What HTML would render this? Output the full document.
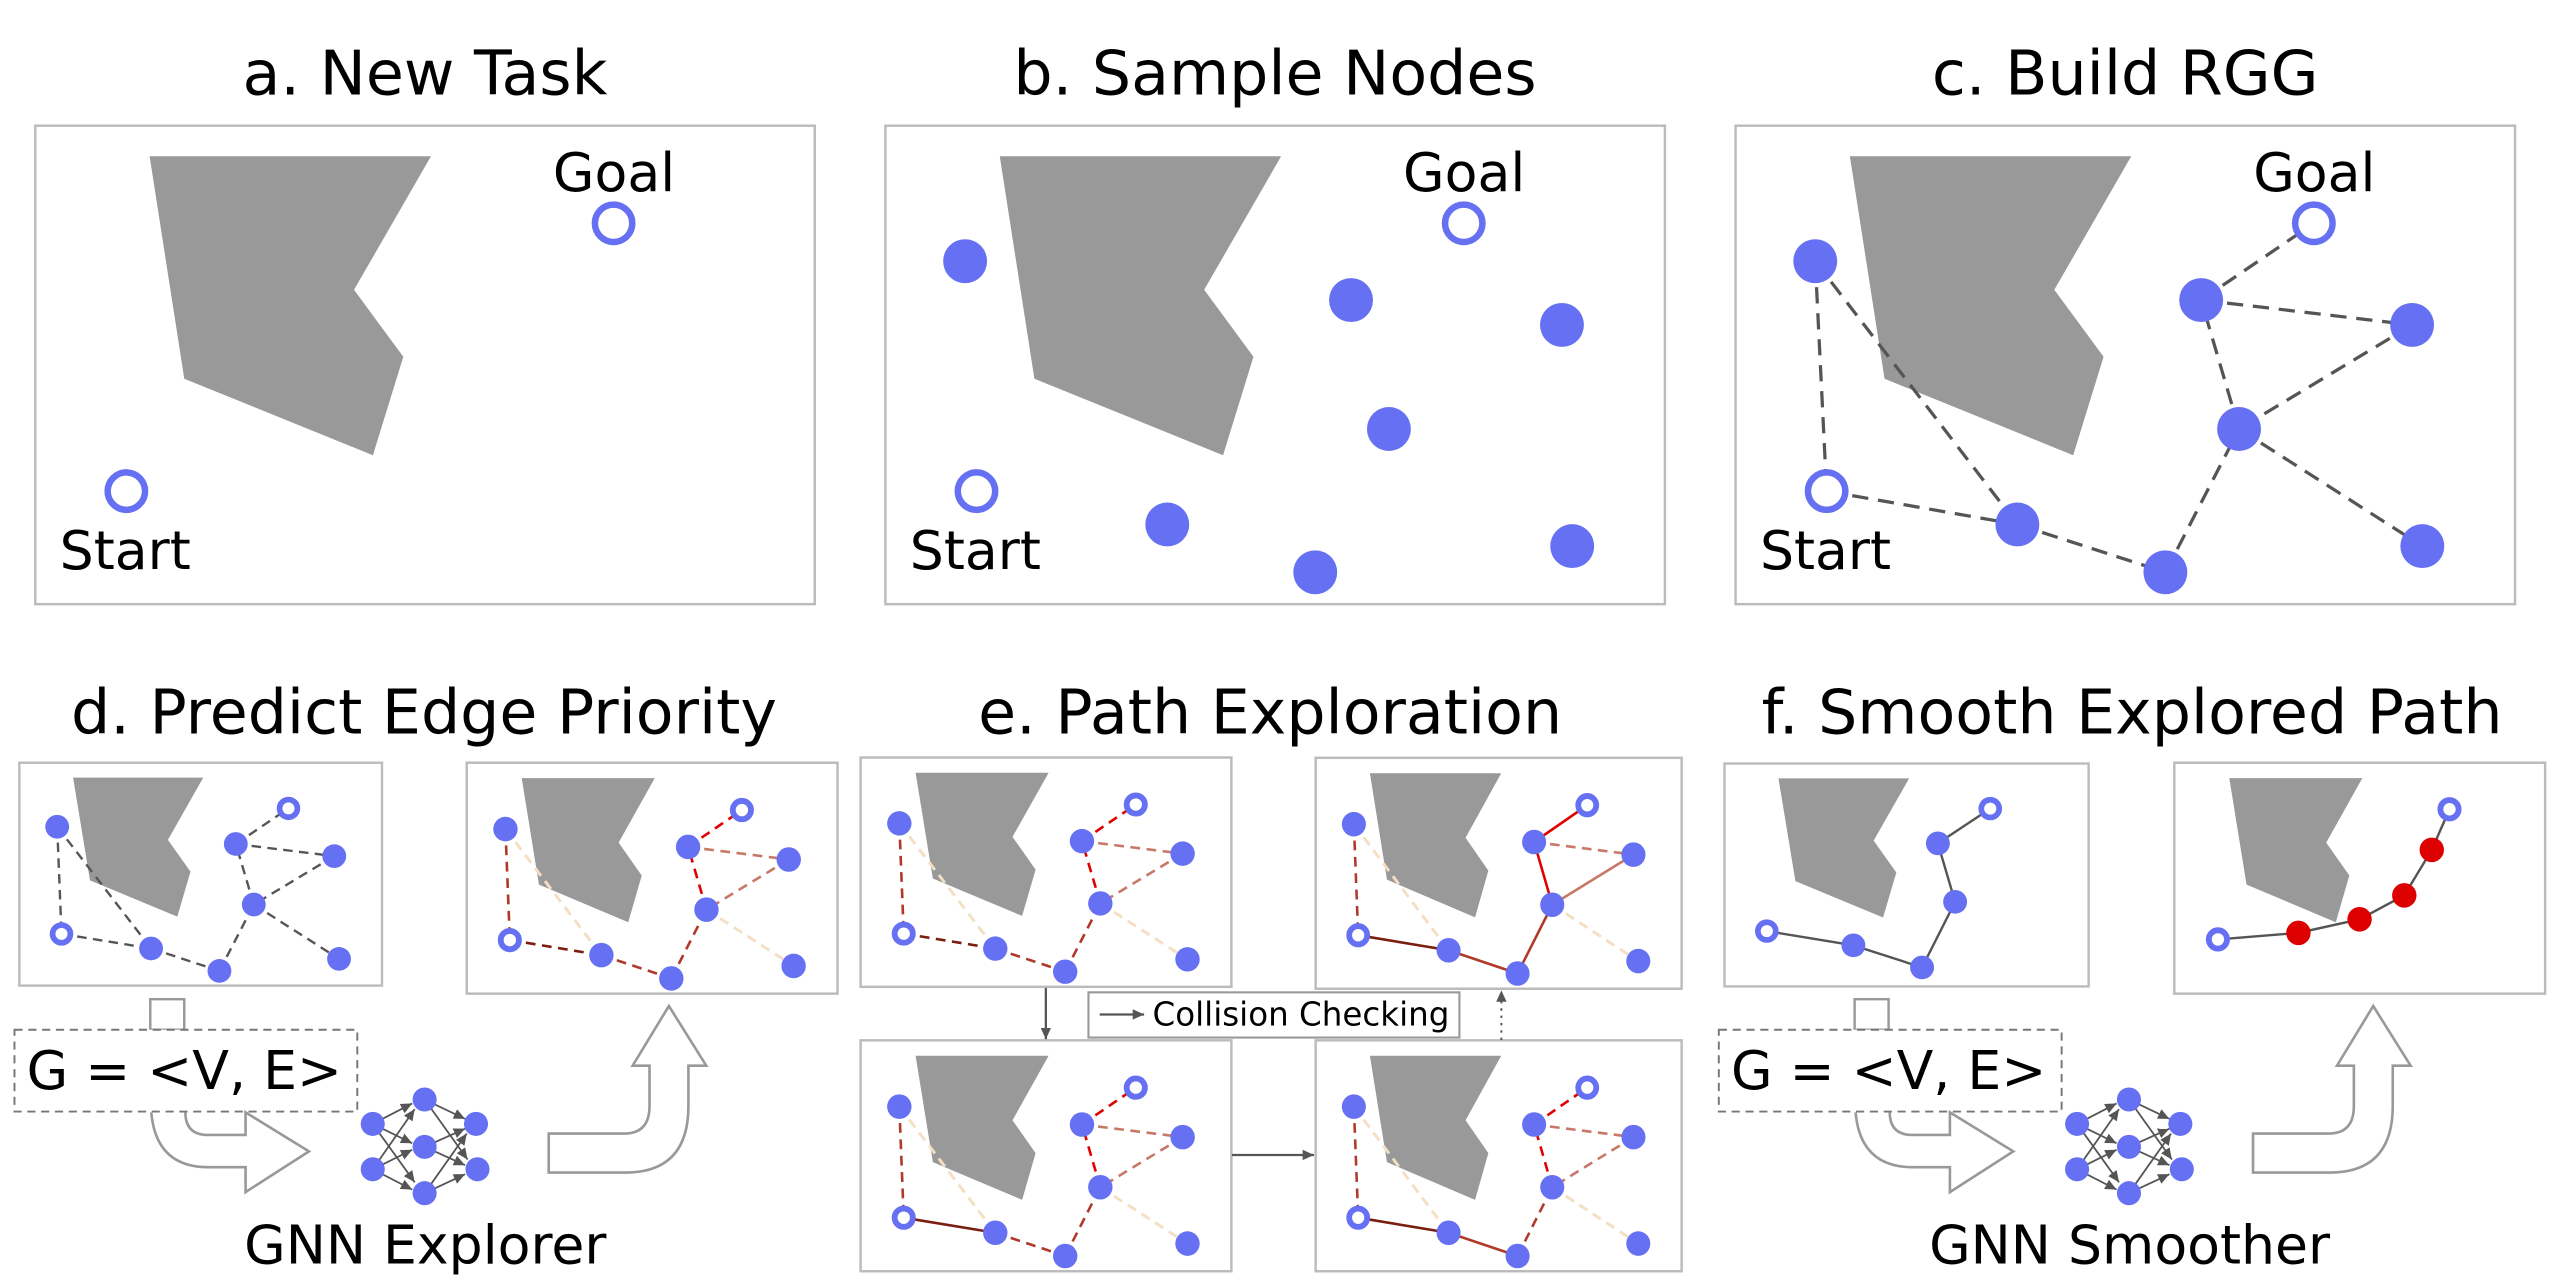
<!DOCTYPE html>
<html><head><meta charset="utf-8">
<style>
html,body{margin:0;padding:0;background:#fff;}
svg{display:block;}
text{font-family:"DejaVu Sans","Liberation Sans",sans-serif;fill:#000;}
</style></head>
<body>
<svg width="2550" height="1275" viewBox="0 0 1568 784" preserveAspectRatio="none" xmlns="http://www.w3.org/2000/svg">
<defs>
  <marker id="ah" markerWidth="8" markerHeight="8" refX="7" refY="4" orient="auto" markerUnits="userSpaceOnUse">
    <path d="M0,0.8 L7,4 L0,7.2 Z" fill="#555"/>
  </marker>
  <marker id="ah2" markerWidth="12" markerHeight="12" refX="10" refY="5" orient="auto" markerUnits="userSpaceOnUse">
    <path d="M0,0 L10,5 L0,10 Z" fill="#555"/>
  </marker>
  <!-- big obstacle -->
  <polygon id="bobs" points="92,96.1 265,96.1 217.7,178.2 248,219.4 229.3,279.9 113.3,232.9" fill="#999"/>
  <!-- small obstacle -->
  <polygon id="sobs" points="33.8,9.4 115.6,9.4 93.4,48.8 107.6,68.9 99.3,97.4 44.4,74.4" fill="#999"/>
  <g id="snodes">
    <circle cx="23.8" cy="40.5" r="7.5" fill="#6670f2"/>
    <circle cx="136.1" cy="51.4" r="7.5" fill="#6670f2"/>
    <circle cx="198" cy="59.1" r="7.5" fill="#6670f2"/>
    <circle cx="147.4" cy="89.7" r="7.5" fill="#6670f2"/>
    <circle cx="82.8" cy="117.5" r="7.5" fill="#6670f2"/>
    <circle cx="125.8" cy="131.7" r="7.5" fill="#6670f2"/>
    <circle cx="201" cy="124.1" r="7.5" fill="#6670f2"/>
    <circle cx="169.2" cy="28.9" r="5.6" fill="#fff" stroke="#6670f2" stroke-width="3.6"/>
    <circle cx="26.5" cy="108.3" r="5.6" fill="#fff" stroke="#6670f2" stroke-width="3.6"/>
  </g>
  <g id="nn">
    <g stroke="#555" stroke-width="1.1" marker-end="url(#ah)">
      <line x1="229.2" y1="691.1" x2="253.5" y2="678.5"/>
      <line x1="229.2" y1="691.1" x2="253.5" y2="703"/>
      <line x1="229.2" y1="691.1" x2="255" y2="727"/>
      <line x1="229.2" y1="719" x2="255" y2="682"/>
      <line x1="229.2" y1="719" x2="253.5" y2="707"/>
      <line x1="229.2" y1="719" x2="253.5" y2="731.5"/>
      <line x1="261.1" y1="676.1" x2="286" y2="688"/>
      <line x1="261.1" y1="676.1" x2="287.5" y2="713"/>
      <line x1="261.1" y1="705.2" x2="286" y2="694"/>
      <line x1="261.1" y1="705.2" x2="286" y2="716.5"/>
      <line x1="261.1" y1="733.7" x2="287" y2="697"/>
      <line x1="261.1" y1="733.7" x2="286" y2="722"/>
    </g>
    <g fill="#6670f2">
      <circle cx="229.2" cy="691.1" r="7.4"/><circle cx="229.2" cy="719" r="7.4"/>
      <circle cx="261.1" cy="676.1" r="7.4"/><circle cx="261.1" cy="705.2" r="7.4"/><circle cx="261.1" cy="733.7" r="7.4"/>
      <circle cx="292.7" cy="691.1" r="7.4"/><circle cx="293.6" cy="719" r="7.4"/>
    </g>
  </g>
  <g id="gbox">
    <rect x="92.4" y="614.4" width="20.9" height="18.8" fill="#fff" stroke="#999" stroke-width="1.5"/>
    <rect x="8.9" y="633.2" width="210.8" height="50.3" fill="#fff" stroke="#777" stroke-width="1.2" stroke-dasharray="5,3.5"/>
    <path d="M93,684 Q96,717.7 128,717.7 L151,717.7 L151,733 L190,708 L151,684 L151,697.9 L128,697.9 Q114,697.9 114,684" fill="none" stroke="#999" stroke-width="1.6"/>
    <path d="M399.4,655.3 L399.4,680 Q399.4,697 384,697 L337.4,697 L337.4,721 L384.5,721 Q423.3,721 423.3,680 L423.3,655.3 L434.3,655.3 L411.3,618.6 L389,655.3 Z" fill="#fff" stroke="#999" stroke-width="1.6"/>
  </g>
</defs>

<!-- Titles -->
<g font-size="38" text-anchor="middle">
  <text x="261.3" y="58">a. New Task</text>
  <text x="784" y="58">b. Sample Nodes</text>
  <text x="1306.8" y="58">c. Build RGG</text>
  <text x="260.7" y="451">d. Predict Edge Priority</text>
  <text x="781" y="451">e. Path Exploration</text>
  <text x="1311" y="451">f. Smooth Explored Path</text>
</g>

<!-- Panel a -->
<g>
  <rect x="21.7" y="77.3" width="479.3" height="294.2" fill="#fff" stroke="#bbb" stroke-width="1.5"/>
  <use href="#bobs"/>
  <circle cx="377.3" cy="137.3" r="11.5" fill="#fff" stroke="#6670f2" stroke-width="4"/>
  <circle cx="77.7" cy="302" r="11.5" fill="#fff" stroke="#6670f2" stroke-width="4"/>
  <text x="340" y="117.5" font-size="33">Goal</text>
  <text x="36.7" y="350" font-size="33">Start</text>
</g>
<!-- Panel b -->
<g transform="translate(522.75,0)">
  <rect x="21.7" y="77.3" width="479.3" height="294.2" fill="#fff" stroke="#bbb" stroke-width="1.5"/>
  <use href="#bobs"/>
  <g fill="#6670f2">
    <circle cx="70.7" cy="160.6" r="13.5"/><circle cx="308" cy="184.5" r="13.5"/><circle cx="437.7" cy="199.8" r="13.5"/>
    <circle cx="331.3" cy="263.8" r="13.5"/><circle cx="195" cy="322.5" r="13.5"/><circle cx="286" cy="351.9" r="13.5"/><circle cx="444" cy="335.8" r="13.5"/>
  </g>
  <circle cx="377.3" cy="137.3" r="11.5" fill="#fff" stroke="#6670f2" stroke-width="4"/>
  <circle cx="77.7" cy="302" r="11.5" fill="#fff" stroke="#6670f2" stroke-width="4"/>
  <text x="340" y="117.5" font-size="33">Goal</text>
  <text x="36.7" y="350" font-size="33">Start</text>
</g>
<!-- Panel c -->
<g transform="translate(1045.5,0)">
  <rect x="21.7" y="77.3" width="479.3" height="294.2" fill="#fff" stroke="#bbb" stroke-width="1.5"/>
  <use href="#bobs"/>
  <g stroke="#555" stroke-width="2" stroke-dasharray="10,6" fill="none">
    <line x1="70.7" y1="160.6" x2="77.7" y2="302"/>
    <line x1="70.7" y1="160.6" x2="195" y2="322.5"/>
    <line x1="77.7" y1="302" x2="195" y2="322.5"/>
    <line x1="195" y1="322.5" x2="286" y2="351.9"/>
    <line x1="286" y1="351.9" x2="331.3" y2="263.8"/>
    <line x1="331.3" y1="263.8" x2="308" y2="184.5"/>
    <line x1="308" y1="184.5" x2="377.3" y2="137.3"/>
    <line x1="308" y1="184.5" x2="437.7" y2="199.8"/>
    <line x1="437.7" y1="199.8" x2="331.3" y2="263.8"/>
    <line x1="331.3" y1="263.8" x2="444" y2="335.8"/>
  </g>
  <g fill="#6670f2">
    <circle cx="70.7" cy="160.6" r="13.5"/><circle cx="308" cy="184.5" r="13.5"/><circle cx="437.7" cy="199.8" r="13.5"/>
    <circle cx="331.3" cy="263.8" r="13.5"/><circle cx="195" cy="322.5" r="13.5"/><circle cx="286" cy="351.9" r="13.5"/><circle cx="444" cy="335.8" r="13.5"/>
  </g>
  <circle cx="377.3" cy="137.3" r="11.5" fill="#fff" stroke="#6670f2" stroke-width="4"/>
  <circle cx="77.7" cy="302" r="11.5" fill="#fff" stroke="#6670f2" stroke-width="4"/>
  <text x="340" y="117.5" font-size="33">Goal</text>
  <text x="36.7" y="350" font-size="33">Start</text>
</g>

<!-- d-left -->
<g transform="translate(11.9,469) scale(0.978,0.972)">
  <rect x="0" y="0" width="228" height="141" fill="#fff" stroke="#bbb" stroke-width="1.5"/>
  <use href="#sobs"/>
  <g stroke="#555" stroke-width="1.5" stroke-dasharray="6,4">
    <line x1="23.8" y1="40.5" x2="26.5" y2="108.3"/>
    <line x1="23.8" y1="40.5" x2="82.8" y2="117.5"/>
    <line x1="26.5" y1="108.3" x2="82.8" y2="117.5"/>
    <line x1="82.8" y1="117.5" x2="125.8" y2="131.7"/>
    <line x1="125.8" y1="131.7" x2="147.4" y2="89.7"/>
    <line x1="147.4" y1="89.7" x2="136.1" y2="51.4"/>
    <line x1="136.1" y1="51.4" x2="169.2" y2="28.9"/>
    <line x1="136.1" y1="51.4" x2="198" y2="59.1"/>
    <line x1="198" y1="59.1" x2="147.4" y2="89.7"/>
    <line x1="147.4" y1="89.7" x2="201" y2="124.1"/>
  </g>
  <use href="#snodes"/>
</g>

<!-- d-right & e panels share edge colouring; dashed variants -->
<g transform="translate(287,469) scale(1,1.007)">
  <rect x="0" y="0" width="228" height="141" fill="#fff" stroke="#bbb" stroke-width="1.5"/>
  <use href="#sobs"/>
  <g stroke-width="1.6" stroke-dasharray="6,4">
    <line x1="23.8" y1="40.5" x2="82.8" y2="117.5" stroke="#f5dfc4" stroke-width="1.8"/>
    <line x1="147.4" y1="89.7" x2="201" y2="124.1" stroke="#f5dfc4" stroke-width="1.8"/>
    <line x1="23.8" y1="40.5" x2="26.5" y2="108.3" stroke="#b03a2a"/>
    <line x1="26.5" y1="108.3" x2="82.8" y2="117.5" stroke="#7a1e10"/>
    <line x1="82.8" y1="117.5" x2="125.8" y2="131.7" stroke="#b03a2a"/>
    <line x1="125.8" y1="131.7" x2="147.4" y2="89.7" stroke="#b03a2a"/>
    <line x1="147.4" y1="89.7" x2="136.1" y2="51.4" stroke="#e00000"/>
    <line x1="136.1" y1="51.4" x2="169.2" y2="28.9" stroke="#e00000"/>
    <line x1="136.1" y1="51.4" x2="198" y2="59.1" stroke="#c87868"/>
    <line x1="198" y1="59.1" x2="147.4" y2="89.7" stroke="#c87868"/>
  </g>
  <use href="#snodes"/>
</g>

<!-- e-TL -->
<g transform="translate(529.2,465.8)">
  <rect x="0" y="0" width="228" height="141" fill="#fff" stroke="#bbb" stroke-width="1.5"/>
  <use href="#sobs"/>
  <g stroke-width="1.6" stroke-dasharray="6,4">
    <line x1="23.8" y1="40.5" x2="82.8" y2="117.5" stroke="#f5dfc4" stroke-width="1.8"/>
    <line x1="147.4" y1="89.7" x2="201" y2="124.1" stroke="#f5dfc4" stroke-width="1.8"/>
    <line x1="23.8" y1="40.5" x2="26.5" y2="108.3" stroke="#b03a2a"/>
    <line x1="26.5" y1="108.3" x2="82.8" y2="117.5" stroke="#7a1e10"/>
    <line x1="82.8" y1="117.5" x2="125.8" y2="131.7" stroke="#b03a2a"/>
    <line x1="125.8" y1="131.7" x2="147.4" y2="89.7" stroke="#b03a2a"/>
    <line x1="147.4" y1="89.7" x2="136.1" y2="51.4" stroke="#e00000"/>
    <line x1="136.1" y1="51.4" x2="169.2" y2="28.9" stroke="#e00000"/>
    <line x1="136.1" y1="51.4" x2="198" y2="59.1" stroke="#c87868"/>
    <line x1="198" y1="59.1" x2="147.4" y2="89.7" stroke="#c87868"/>
  </g>
  <use href="#snodes"/>
</g>

<!-- e-TR -->
<g transform="translate(809,466) scale(0.987,1.007)">
  <rect x="0" y="0" width="228" height="141" fill="#fff" stroke="#bbb" stroke-width="1.5"/>
  <use href="#sobs"/>
  <g stroke-width="1.6">
    <line x1="23.8" y1="40.5" x2="82.8" y2="117.5" stroke="#f5dfc4" stroke-width="1.8" stroke-dasharray="6,4"/>
    <line x1="147.4" y1="89.7" x2="201" y2="124.1" stroke="#f5dfc4" stroke-width="1.8" stroke-dasharray="6,4"/>
    <line x1="23.8" y1="40.5" x2="26.5" y2="108.3" stroke="#b03a2a" stroke-dasharray="6,4"/>
    <line x1="26.5" y1="108.3" x2="82.8" y2="117.5" stroke="#7a1e10"/>
    <line x1="82.8" y1="117.5" x2="125.8" y2="131.7" stroke="#b03a2a"/>
    <line x1="125.8" y1="131.7" x2="147.4" y2="89.7" stroke="#b03a2a"/>
    <line x1="147.4" y1="89.7" x2="136.1" y2="51.4" stroke="#e00000"/>
    <line x1="136.1" y1="51.4" x2="169.2" y2="28.9" stroke="#e00000"/>
    <line x1="136.1" y1="51.4" x2="198" y2="59.1" stroke="#c87868" stroke-dasharray="6,4"/>
    <line x1="198" y1="59.1" x2="147.4" y2="89.7" stroke="#c87868"/>
  </g>
  <use href="#snodes"/>
</g>

<!-- e-BL -->
<g transform="translate(529.2,639.7) scale(1,1.007)">
  <rect x="0" y="0" width="228" height="141" fill="#fff" stroke="#bbb" stroke-width="1.5"/>
  <use href="#sobs"/>
  <g stroke-width="1.6">
    <line x1="23.8" y1="40.5" x2="82.8" y2="117.5" stroke="#f5dfc4" stroke-width="1.8" stroke-dasharray="6,4"/>
    <line x1="147.4" y1="89.7" x2="201" y2="124.1" stroke="#f5dfc4" stroke-width="1.8" stroke-dasharray="6,4"/>
    <line x1="23.8" y1="40.5" x2="26.5" y2="108.3" stroke="#b03a2a" stroke-dasharray="6,4"/>
    <line x1="26.5" y1="108.3" x2="82.8" y2="117.5" stroke="#7a1e10"/>
    <line x1="82.8" y1="117.5" x2="125.8" y2="131.7" stroke="#b03a2a" stroke-dasharray="6,4"/>
    <line x1="125.8" y1="131.7" x2="147.4" y2="89.7" stroke="#b03a2a" stroke-dasharray="6,4"/>
    <line x1="147.4" y1="89.7" x2="136.1" y2="51.4" stroke="#e00000" stroke-dasharray="6,4"/>
    <line x1="136.1" y1="51.4" x2="169.2" y2="28.9" stroke="#e00000" stroke-dasharray="6,4"/>
    <line x1="136.1" y1="51.4" x2="198" y2="59.1" stroke="#c87868" stroke-dasharray="6,4"/>
    <line x1="198" y1="59.1" x2="147.4" y2="89.7" stroke="#c87868" stroke-dasharray="6,4"/>
  </g>
  <use href="#snodes"/>
</g>

<!-- e-BR -->
<g transform="translate(809,639.7) scale(0.987,1.007)">
  <rect x="0" y="0" width="228" height="141" fill="#fff" stroke="#bbb" stroke-width="1.5"/>
  <use href="#sobs"/>
  <g stroke-width="1.6">
    <line x1="23.8" y1="40.5" x2="82.8" y2="117.5" stroke="#f5dfc4" stroke-width="1.8" stroke-dasharray="6,4"/>
    <line x1="147.4" y1="89.7" x2="201" y2="124.1" stroke="#f5dfc4" stroke-width="1.8" stroke-dasharray="6,4"/>
    <line x1="23.8" y1="40.5" x2="26.5" y2="108.3" stroke="#b03a2a" stroke-dasharray="6,4"/>
    <line x1="26.5" y1="108.3" x2="82.8" y2="117.5" stroke="#7a1e10"/>
    <line x1="82.8" y1="117.5" x2="125.8" y2="131.7" stroke="#b03a2a"/>
    <line x1="125.8" y1="131.7" x2="147.4" y2="89.7" stroke="#b03a2a" stroke-dasharray="6,4"/>
    <line x1="147.4" y1="89.7" x2="136.1" y2="51.4" stroke="#e00000" stroke-dasharray="6,4"/>
    <line x1="136.1" y1="51.4" x2="169.2" y2="28.9" stroke="#e00000" stroke-dasharray="6,4"/>
    <line x1="136.1" y1="51.4" x2="198" y2="59.1" stroke="#c87868" stroke-dasharray="6,4"/>
    <line x1="198" y1="59.1" x2="147.4" y2="89.7" stroke="#c87868" stroke-dasharray="6,4"/>
  </g>
  <use href="#snodes"/>
</g>

<!-- e connectors -->
<line x1="643.1" y1="607.5" x2="643.1" y2="639" stroke="#555" stroke-width="1.4" marker-end="url(#ah)"/>
<line x1="757.5" y1="710.2" x2="808" y2="710.2" stroke="#555" stroke-width="1.4" marker-end="url(#ah)"/>
<line x1="923.2" y1="639.5" x2="923.2" y2="609" stroke="#555" stroke-width="1.2" stroke-dasharray="1.5,3" marker-end="url(#ah)"/>
<rect x="669.3" y="610.2" width="228.1" height="27.8" fill="#fff" stroke="#999" stroke-width="1.3"/>
<line x1="676.2" y1="623.8" x2="703.5" y2="623.8" stroke="#555" stroke-width="1.4" marker-end="url(#ah)"/>
<text x="708.7" y="630.5" font-size="20">Collision Checking</text>

<!-- d bottom -->
<use href="#gbox"/>
<text x="16.4" y="669.7" font-size="33">G = &lt;V, E&gt;</text>
<use href="#nn"/>
<text x="261.5" y="776.8" font-size="33" text-anchor="middle">GNN Explorer</text>

<!-- f-left -->
<g transform="translate(1060.4,469.5) scale(0.982,0.972)">
  <rect x="0" y="0" width="228" height="141" fill="#fff" stroke="#bbb" stroke-width="1.5"/>
  <use href="#sobs"/>
  <polyline points="26.5,106 80.7,115 123.7,129 144.4,87.5 133.6,50.5 166.4,28.5" fill="none" stroke="#555" stroke-width="1.5"/>
  <g fill="#6670f2">
    <circle cx="80.7" cy="115" r="7.5"/><circle cx="123.7" cy="129" r="7.5"/><circle cx="144.4" cy="87.5" r="7.5"/><circle cx="133.6" cy="50.5" r="7.5"/>
  </g>
  <circle cx="166.4" cy="28.5" r="5.6" fill="#fff" stroke="#6670f2" stroke-width="3.6"/>
  <circle cx="26.5" cy="106" r="5.6" fill="#fff" stroke="#6670f2" stroke-width="3.6"/>
</g>

<!-- f-right -->
<g transform="translate(1337,469) scale(1,1.007)">
  <rect x="0" y="0" width="228" height="141" fill="#fff" stroke="#bbb" stroke-width="1.5"/>
  <use href="#sobs"/>
  <polyline points="26.8,107.9 76.3,103.9 113.9,95.6 141.4,81 158.3,53.2 169.2,28.4" fill="none" stroke="#555" stroke-width="1.5"/>
  <g fill="#dd0000">
    <circle cx="76.3" cy="103.9" r="7.5"/><circle cx="113.9" cy="95.6" r="7.5"/><circle cx="141.4" cy="81" r="7.5"/><circle cx="158.3" cy="53.2" r="7.5"/>
  </g>
  <circle cx="169.2" cy="28.4" r="5.6" fill="#fff" stroke="#6670f2" stroke-width="3.6"/>
  <circle cx="26.8" cy="107.9" r="5.6" fill="#fff" stroke="#6670f2" stroke-width="3.6"/>
</g>

<!-- f bottom -->
<g transform="translate(1048,0)">
  <use href="#gbox"/>
  <text x="16.4" y="669.7" font-size="33">G = &lt;V, E&gt;</text>
  <use href="#nn"/>
  <text x="261.5" y="776.8" font-size="33" text-anchor="middle">GNN Smoother</text>
</g>
</svg>
</body></html>
